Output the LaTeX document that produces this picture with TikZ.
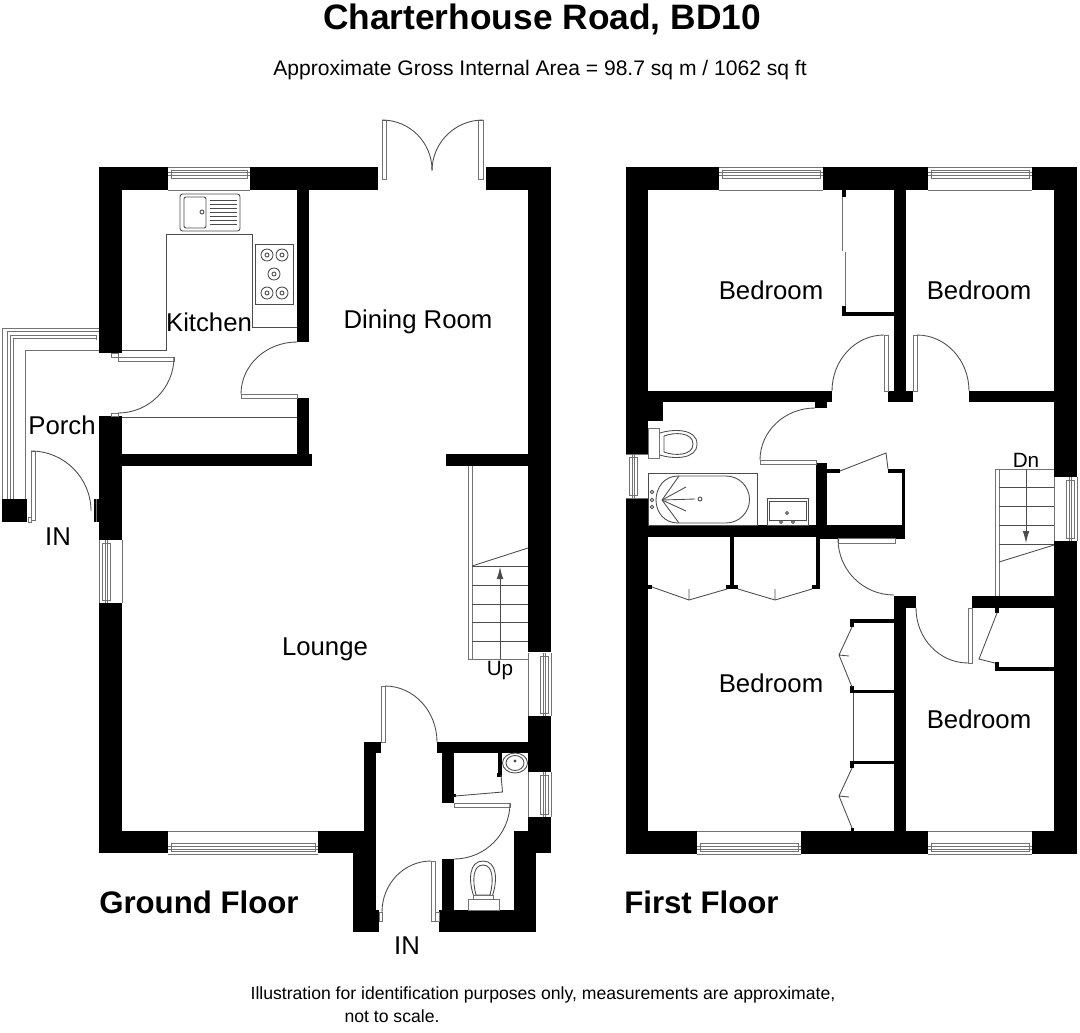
\documentclass[tikz,border=0pt]{standalone}
\usepackage{fontspec}
\setmainfont{Liberation Sans}
\usetikzlibrary{arrows.meta}
\tikzset{%
	wall/.style    = {fill=black},
	fitting/.style = {draw=black!70, line width=0.65pt},
	glass/.style   = {draw=black!55, line width=0.65pt},
	leaf/.style    = {draw=black!55, line width=0.65pt, fill=white},
	room/.style    = {font=\fontsize{19.3}{19.3}\selectfont, inner sep=0pt},
	sign/.style    = {font=\fontsize{15.5}{15.5}\selectfont, inner sep=0pt},
	floorname/.style = {font=\fontsize{23.4}{24}\selectfont\bfseries, inner sep=0pt, anchor=west},
	small/.style   = {font=\fontsize{13.2}{15}\selectfont, inner sep=0pt},
	flight/.style  = {draw=black!70, line width=0.65pt, -{Latex[length=9pt,width=5pt]}},
}
\begin{document}
\begin{tikzpicture}[x=0.75pt,y=-0.75pt]
	\useasboundingbox (0,0) rectangle (1080,1032);
	% ground floor walls
	\foreach \xa/\ya/\xb/\yb in {99/167/168/190,250/167/378/190,486/167/551/190,99/190/122/353,99/416/122/540,94/499/99/522,2/499/27/522,
		99/603/122/853,99/831/168/853,318/831/376/853,353/853/376/932,353/910/379/932,364/742/376/831,364/742/381/753,
		297/190/309/342,297/398/309/454,122/454/312/466,528/190/551/652,528/716/551/772,528/817/551/853,514/831/536/910,439/910/536/932,
		446/454/528/466,437/742/528/753,442/753/454/803,442/859/454/910,498/753/502/775,497/773/502/777,454/794/456/797}
		\fill[wall] (\xa,\ya) rectangle (\xb,\yb);
	% first floor walls
	\foreach \xa/\ya/\xb/\yb in {626/167/719/190,823/167/928/190,1032/167/1077/190,626/190/648/454,626/498/648/831,626/831/697/854,801/831/928/854,1032/831/1077/854,
		1054/190/1077/477,1054/541/1077/831,894/190/906/391,888/391/913/402,648/391/832/402,815/402/827/408,648/402/663/421,969/391/1054/402,
		648/525/905/537,820/525/905/539,816/463/827/525,827/469/840/473,888/469/905/473,902/473/905/525,972/596/1054/608,894/596/916/608,894/608/906/831,
		730/537/734/585,726/585/738/589,816/537/820/589,812/585/820/589,648/585/652/589,995/608/999/613,995/662/999/671,995/667/1054/671,
		850/619/894/623,850/619/854/627,850/690/894/693,850/686/854/693,850/761/894/764,850/761/854/768,851/828/854/831,842/190/846/197,842/306/846/316,842/312/894/316}
		\fill[wall] (\xa,\ya) rectangle (\xb,\yb);
	% windows
	\foreach \xa/\xb in {168/250,719/823,928/1032} {
		\draw[glass] (\xa,167) -- (\xb,167) (\xa,190) -- (\xb,190);
		\draw[glass] (\xa+3,170) rectangle (\xb-3,178);
		\draw[glass] (\xa,172) -- (\xb,172) (\xa,175) -- (\xb,175);
	}
	\foreach \xa/\xb in {168/318,697/801,928/1032} {
		\draw[glass] (\xa,831) -- (\xb,831) (\xa,854) -- (\xb,854);
		\draw[glass] (\xa+3,843) rectangle (\xb-3,851);
		\draw[glass] (\xa,846) -- (\xb,846) (\xa,849) -- (\xb,849);
	}
	\foreach \ya/\yb in {653/716,772/817} {
		\draw[glass] (528,\ya) -- (528,\yb) (551,\ya) -- (551,\yb);
		\draw[glass] (540,\ya+3) rectangle (548,\yb-3);
		\draw[glass] (543,\ya) -- (543,\yb) (545,\ya) -- (545,\yb);
	}
	\draw[glass] (1054,477) -- (1054,541) (1077,477) -- (1077,541);
	\draw[glass] (1066,480) rectangle (1074,538) (1069,477) -- (1069,541) (1071,477) -- (1071,541);
	\draw[glass] (99,540) -- (99,603) (122,540) -- (122,603);
	\draw[glass] (102,543) rectangle (110,600) (105,540) -- (105,603) (107,540) -- (107,603);
	\draw[glass] (626,454) -- (648,454) (626,498) -- (648,498);
	\draw[glass] (629,457) rectangle (637,495) (632,454) -- (632,498) (634,454) -- (634,498);
	% porch glazing
	\draw[glass] (2.5,499) |- (99,328) (7,499) |- (99,331.5) (10,499) |- (96,335) (13,499) |- (96,338.5) (25,499) |- (99,350) (96,335) -- (96,340);
	\draw[glass] (111,353) rectangle (118,357) (111,413) rectangle (118,416) (96,499) -- (96,522) (28,517) rectangle (31,522);
	% doors
	\foreach \xa/\ya/\xb/\yb in {31/451/35/520,118/357/174/361,241/394/297/398,382/120/386/179,478/120/483/179,454/803/510/807,431/861/435/921,381/686/385/742,
		884/335/888/391,913/335/917/391,760/460/816/464,838/538/895/543,968/608/972/663,379/912/382/921,435/912/439/921}
		\draw[leaf] (\xa,\ya) rectangle (\xb,\yb);
	\draw[fitting] (31,451) arc[start angle=-90,end angle=0,radius=60];
	\draw[fitting] (174,357) arc[start angle=0,end angle=90,radius=56];
	\draw[fitting] (241,394) arc[start angle=180,end angle=270,x radius=56,y radius=52];
	\draw[fitting] (382,120) arc[start angle=-90,end angle=0,radius=50];
	\draw[fitting] (483,120) arc[start angle=-90,end angle=-180,radius=51];
	\draw[fitting] (510,803) arc[start angle=0,end angle=90,radius=56];
	\draw[fitting] (431,861) arc[start angle=-90,end angle=-180,x radius=49,y radius=51];
	\draw[fitting] (385,686) arc[start angle=-90,end angle=0,x radius=52,y radius=56];
	\draw[fitting] (884,335) arc[start angle=-90,end angle=-180,x radius=52,y radius=56];
	\draw[fitting] (917,335) arc[start angle=-90,end angle=0,x radius=52,y radius=56];
	\draw[fitting] (760,460) arc[start angle=180,end angle=270,x radius=55,y radius=52];
	\draw[fitting] (838,539) arc[start angle=180,end angle=90,radius=56];
	\draw[fitting] (916,608) arc[start angle=180,end angle=90,x radius=52,y radius=55];
	% kitchen
	\draw[fitting] (122,350) -- (166,350) -- (166,234) -- (252,234) -- (252,327) -- (297,327);
	\draw[fitting] (122,417) -- (297,417);
	\draw[fitting,rounded corners=2pt] (180,194) rectangle (240,231);
	\draw[fitting,rounded corners=1.5pt] (184,197) rectangle (206,228);
	\foreach \y in {200,204,...,226} \draw[fitting] (210,\y) -- (237,\y);
	\draw[fitting] (202,212) circle (2);
	\draw[fitting] (255,244) rectangle (293,304);
	\foreach \x/\y in {267/255,282/255,274/274,267/293,282/293} {
		\draw[fitting] (\x,\y) circle (6);
		\draw[fitting] (\x,\y) circle (2);
	}
	% ground floor cloakroom
	\draw[fitting] (501,775) -- (502.5,792) -- (455,796);
	\draw[fitting] (515,763) circle [x radius=12.5,y radius=10];
	\draw[fitting] (515,763) circle [x radius=9,y radius=7.5];
	\draw[fitting] (515,761) circle (1);
	\draw[fitting] (474,897) .. controls (468,880) and (469,861) .. (483,861) .. controls (497,861) and (498,880) .. (492,897);
	\draw[fitting] (476,895) .. controls (472,880) and (473,865) .. (483,865) .. controls (493,865) and (494,880) .. (490,895) -- cycle;
	\draw[leaf] (473,895) rectangle (493,899);
	\draw[leaf] (468,899) rectangle (499,910);
	% stairs up
	\draw[glass] (468,466) |- (528,659) (472,466) -- (472,659);
	\foreach \y in {566,585,604,622,641} \draw[fitting] (472,\y) -- (528,\y);
	\draw[fitting] (472,566) -- (528,548);
	\draw[flight] (500,659) -- (500,567);
	% stairs down
	\draw[glass] (995,596) |- (1054,469) (999,469) -- (999,596);
	\foreach \y in {487,506,525,544} \draw[fitting] (999,\y) -- (1054,\y);
	\draw[fitting] (999,562) -- (1054,545);
	\draw[flight] (1026,469) -- (1026,543);
	% bathroom
	\draw[fitting] (648,473) rectangle (757,525);
	\draw[fitting] (678,476) -- (726,476) arc[start angle=-90,end angle=90,radius=23.5] -- (678,523) .. controls (664,523) and (656,512) .. (656,500) .. controls (656,488) and (664,476) .. (678,476);
	\foreach \x/\y in {679/476,686/487,695/499,686/511,679/523} \draw[fitting] (662,500) -- (\x,\y);
	\draw[fitting] (700,499) circle (2);
	\foreach \y in {492,500,507} \draw[fitting] (652,\y) circle (1.7);
	\draw[fitting] (767,498) rectangle (808,525);
	\draw[fitting] (769,501) rectangle (806,520);
	\foreach \x/\y in {787/513,781/522,793/522} \draw[fitting] (\x,\y) circle (1.5);
	\draw[leaf] (648,428) rectangle (659,458);
	\draw[fitting] (660,433) .. controls (672,429) and (697,428) .. (697,444) .. controls (697,460) and (672,459) .. (660,455);
	\draw[fitting] (664,436) .. controls (674,432) and (693,432) .. (693,444) .. controls (693,456) and (674,456) .. (664,452) -- cycle;
	% wardrobes
	\draw[fitting] (652,587) -- (689,600) -- (727,589) (689,600) -- (689,589);
	\draw[fitting] (738,589) -- (775,600) -- (812,589) (775,600) -- (775,589);
	\draw[fitting] (840,471) -- (886,453) -- (888,469);
	\draw[fitting] (997,613) -- (979,659) -- (995,663);
	\draw[fitting] (852,627) -- (839,655) -- (852,687) (839,655) -- (849,656);
	\draw[fitting] (852,768) -- (839,796) -- (852,828) (839,796) -- (849,797);
	\draw[fitting] (853.5,693) -- (853.5,761);
	\draw[glass] (842.5,197) -- (842.5,251) (845,252) -- (845,306);
	% labels
	\node[font=\fontsize{26.5}{26.5}\selectfont\bfseries,inner sep=0pt] (title) at (542,19) {Charterhouse Road, BD10};
	\node[font=\fontsize{15.8}{15.8}\selectfont,inner sep=0pt] (area) at (540,70) {Approximate Gross Internal Area = 98.7 sq m / 1062 sq ft};
	\node[room] (kitchen) at (209,322) {Kitchen};
	\node[room] (dining) at (418,322) {Dining Room};
	\node[room] (porch) at (62,425) {Porch};
	\node[room] (lounge) at (325,649) {Lounge};
	\node[room] (inside) at (58,537) {IN};
	\node[room] (infront) at (407,946) {IN};
	\node[sign] (up) at (500,671) {Up};
	\node[sign] (down) at (1026,460) {Dn};
	\node[room] (bedroomone) at (771,290) {Bedroom};
	\node[room] (bedroomtwo) at (979,290) {Bedroom};
	\node[room] (bedroomthree) at (771,683) {Bedroom};
	\node[room] (bedroomfour) at (979,719) {Bedroom};
	\node[floorname] (ground) at (99,902) {Ground Floor};
	\node[floorname] (first) at (624,902) {First Floor};
	\node[small] (note) at (543,995) {Illustration for identification purposes only, measurements are approximate,};
	\node[small] (noteend) at (392,1016) {not to scale.};
\end{tikzpicture}
\end{document}
